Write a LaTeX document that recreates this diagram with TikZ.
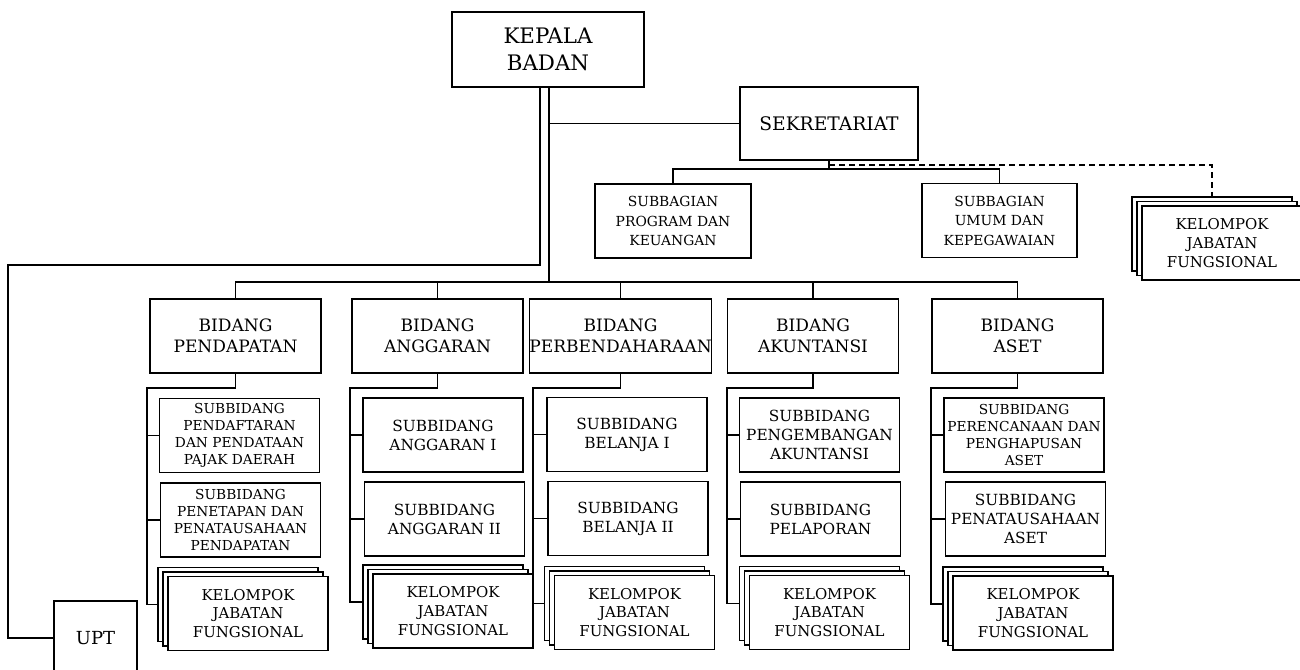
\documentclass[tikz,border=0pt]{standalone}
\usepackage{fontspec}
\setmainfont{DejaVu Serif}
\usetikzlibrary{calc}
\newcommand\kjfstack[3]{%
  \node[box,subsz] (#1c) at ({#2-10},{#3-9}) {};
  \node[box,subsz] (#1b) at ({#2-5},{#3-4.5}) {};
  \node[box,subsz,kjffont] (#1) at (#2,#3) {KELOMPOK\\JABATAN\\FUNGSIONAL};
}
\begin{document}
\begin{tikzpicture}[x=0.75pt,y=-0.75pt,
  box/.style={draw=black,line width=1.1pt,fill=white,rectangle,inner sep=0pt,outer sep=0pt,align=center},
  subsz/.style={minimum width=120pt,minimum height=55.5pt},
  bidsz/.style={minimum width=128.25pt,minimum height=55.5pt},
  conn/.style={draw=black,line width=1.1pt},
  dconn/.style={draw=black,line width=1.1pt,dash pattern=on 4.5pt off 3pt},
  kjffont/.style={font=\fontsize{11.2}{14.2}\selectfont},
  subfont/.style={font=\fontsize{11.5}{14.25}\selectfont},
  sub4font/.style={font=\fontsize{10.3}{12.75}\selectfont},
  bidfont/.style={font=\fontsize{12.8}{15.75}\selectfont},
  sbfont/.style={font=\fontsize{10.4}{14.6}\selectfont}]
\useasboundingbox (0,0) rectangle (1300,669);
\clip (0,0) rectangle (1300,669);

% top
\node[box,minimum width=144pt,minimum height=56.25pt,font=\fontsize{16}{20}\selectfont] (kepala) at (548,49.5) {KEPALA\\BADAN};
\node[box,minimum width=133.5pt,minimum height=54.75pt,font=\fontsize{14}{17}\selectfont] (sek) at (829,123.5) {SEKRETARIAT};
\node[box,minimum width=117pt,minimum height=55.5pt,sbfont] (sbProg) at (673,221) {SUBBAGIAN\\PROGRAM DAN\\KEUANGAN};
\node[box,minimum width=116.25pt,minimum height=55.5pt,sbfont] (sbUmum) at (999.5,220.5) {SUBBAGIAN\\UMUM DAN\\KEPEGAWAIAN};
\kjfstack{kjfT}{1222}{243}

% bidang
\node[box,bidsz,bidfont] (bidP) at (235.5,336) {BIDANG\\PENDAPATAN};
\node[box,bidsz,bidfont] (bidA) at (437.5,336) {BIDANG\\ANGGARAN};
\node[box,bidsz,bidfont] (bidB) at (620.5,336) {BIDANG\\PERBENDAHARAAN};
\node[box,bidsz,bidfont] (bidK) at (813,336) {BIDANG\\AKUNTANSI};
\node[box,bidsz,bidfont] (bidS) at (1017.5,336) {BIDANG\\ASET};

% subbidang
\node[box,subsz,sub4font] (subP1) at (239.5,435.5) {SUBBIDANG\\PENDAFTARAN\\DAN PENDATAAN\\PAJAK DAERAH};
\node[box,subsz,sub4font] (subP2) at (240.5,520) {SUBBIDANG\\PENETAPAN DAN\\PENATAUSAHAAN\\PENDAPATAN};
\node[box,subsz,subfont] (subA1) at (443,435) {SUBBIDANG\\ANGGARAN I};
\node[box,subsz,subfont] (subA2) at (444.5,519) {SUBBIDANG\\ANGGARAN II};
\node[box,subsz,subfont] (subB1) at (627,434.5) {SUBBIDANG\\BELANJA I};
\node[box,subsz,subfont] (subB2) at (628,518.5) {SUBBIDANG\\BELANJA II};
\node[box,subsz,subfont] (subK1) at (819.5,435) {SUBBIDANG\\PENGEMBANGAN\\AKUNTANSI};
\node[box,subsz,subfont] (subK2) at (820.5,519) {SUBBIDANG\\PELAPORAN};
\node[box,subsz,sub4font] (subS1) at (1024,435) {SUBBIDANG\\PERENCANAAN DAN\\PENGHAPUSAN\\ASET};
\node[box,subsz,subfont] (subS2) at (1025.5,519) {SUBBIDANG\\PENATAUSAHAAN\\ASET};

% kelompok jabatan fungsional
\kjfstack{kjfP}{248}{613.5}
\kjfstack{kjfA}{453}{611}
\kjfstack{kjfB}{634.5}{612.5}
\kjfstack{kjfK}{829.5}{612.5}
\kjfstack{kjfS}{1033}{613}

% UPT
\node[box,minimum width=62.25pt,minimum height=55.5pt,font=\fontsize{13.5}{16}\selectfont] (upt) at (95.5,638) {UPT};

% connectors
\coordinate (bus) at (549,282);
\coordinate (uptc) at (8,265);
\coordinate (sbus) at (829,169);
\draw[conn] ([xshift=0.75pt]kepala.south) -- (bus);
\draw[conn] ([xshift=-6pt]kepala.south) |- (uptc) |- (upt.west);
\draw[conn] (sek.west) -- (sek.west -| bus);
\draw[conn] (bidP.north) |- (bus) -| (bidS.north);
\foreach \n in {bidA,bidB,bidK} \draw[conn] (\n.north) -- (\n.north |- bus);
\draw[conn] (sek.south) -- (sbus);
\draw[conn] (sbProg.north) |- (sbus) -| (sbUmum.north);
\draw[dconn] ([yshift=-3.75pt]sek.south) -| (kjfTc.north);

\coordinate (jP) at (147,388);
\coordinate (jA) at (350,388);
\coordinate (jB) at (533,388);
\coordinate (jK) at (727,388);
\coordinate (jS) at (931,388);
\foreach \c in {P,A,B,K,S} {
  \draw[conn] (bid\c.south) |- (j\c) |- (kjf\c c.west);
  \draw[conn] (j\c) |- (sub\c1.west);
  \draw[conn] (j\c) |- (sub\c2.west);
}
\end{tikzpicture}
\end{document}
